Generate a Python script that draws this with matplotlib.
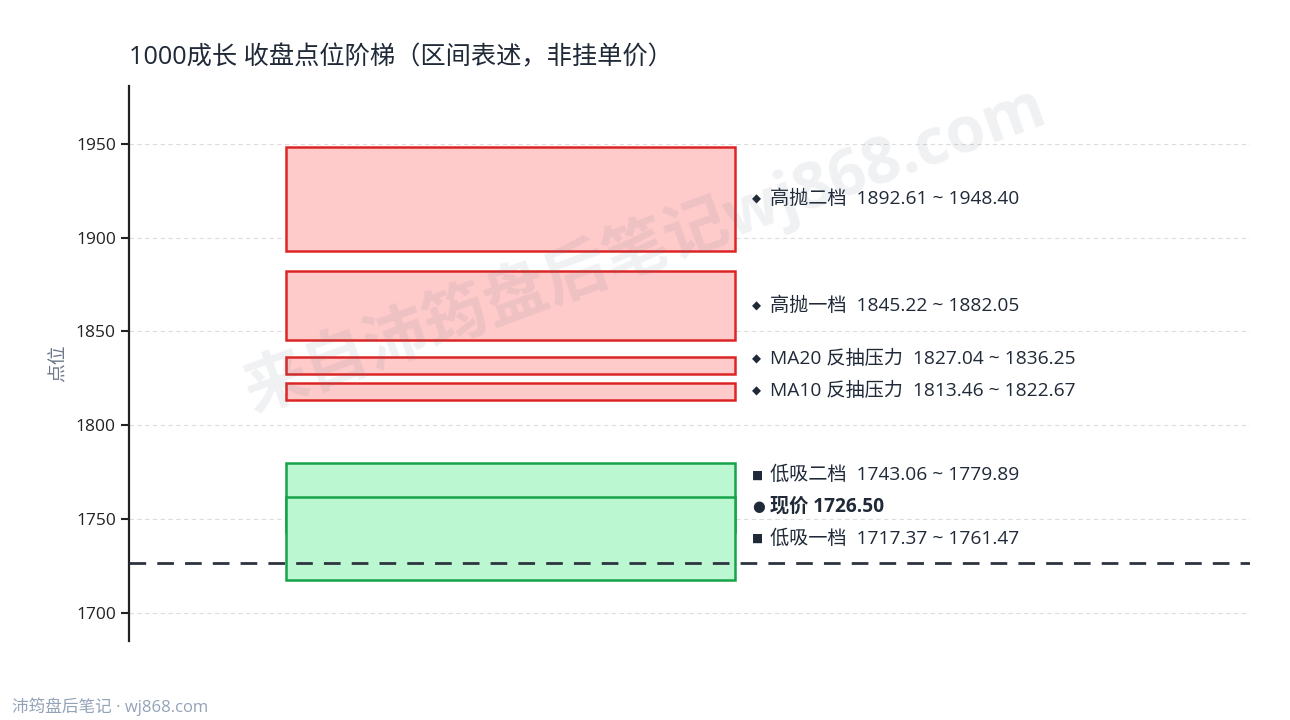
import numpy as np
import matplotlib
matplotlib.use("Agg")
import matplotlib.pyplot as plt
from matplotlib.patches import Rectangle

plt.rcParams['font.family'] = ['Open Sans', 'Noto Sans CJK SC', 'DejaVu Sans']
plt.rcParams['axes.unicode_minus'] = False

# 区间数据（从上到下的显示顺序）
zone_names = ["高抛二档", "高抛一档", "MA20 反抽压力", "MA10 反抽压力", "低吸二档", "低吸一档"]
zone_low = [1892.61, 1845.22, 1827.04, 1813.46, 1743.06, 1717.37]
zone_high = [1948.40, 1882.05, 1836.25, 1822.67, 1779.89, 1761.47]
zone_kind = ["sell", "sell", "sell", "sell", "buy", "buy"]
current_price = 1726.50

title = "1000成长 收盘点位阶梯（区间表述，非挂单价）"
yticks = [1700, 1750, 1800, 1850, 1900, 1950]

fill_col = {"sell": "#fecaca", "buy": "#bbf7d0"}
edge_col = {"sell": "#dc2626", "buy": "#16a34a"}
marker = {"sell": "◆", "buy": "■", "now": "●"}

fig = plt.figure(figsize=(12.9, 7.2), dpi=100)
ax = fig.add_axes([0.1, 0.11, 0.869, 0.771])
ax.set_xlim(0, 1)
ax.set_ylim(1685, 1981)

x0, x1 = 0.14, 0.541
for lo, hi, k in zip(zone_low, zone_high, zone_kind):
    ax.add_patch(Rectangle((x0, lo), x1 - x0, hi - lo, facecolor=fill_col[k],
                           edgecolor=edge_col[k], linewidth=1.8, zorder=2))

ax.axhline(current_price, color="#2d3440", linestyle=(0, (6, 4)), linewidth=2, zorder=3)

# 标签：显示顺序，低吸二档与低吸一档之间插入现价
labels = []
for name, lo, hi, k in zip(zone_names, zone_low, zone_high, zone_kind):
    labels.append((k, f"{name}  {lo:.2f} ~ {hi:.2f}", (lo + hi) / 2, "normal"))
labels.insert(5, ("now", f"现价 {current_price:.2f}", current_price, "bold"))

# 自下而上排开，避免重叠
gap = 17.0
ypos = [0.0] * len(labels)
prev = None
for i in range(len(labels) - 1, -1, -1):
    y = labels[i][2]
    if prev is not None:
        y = max(y, prev + gap)
    ypos[i] = y
    prev = y

for (k, txt, _, w), y in zip(labels, ypos):
    ms = 10.5 if k == "now" else 8.5
    ax.text(0.556, y, marker[k], va="center", ha="left", fontsize=ms,
            family="DejaVu Sans", color="#1f2937", zorder=4)
    ax.text(0.5715, y, txt, va="center", ha="left", fontsize=13.8, fontweight=w,
            color="#1f2937", zorder=4)

ax.set_yticks(yticks)
ax.tick_params(axis="y", labelsize=12.5, length=6, width=1.5, color="#222222", labelcolor="#222222")
ax.set_xticks([])
ax.grid(axis="y", color="#dddddd", linestyle=(0, (4, 3)), linewidth=0.8)
ax.set_axisbelow(True)
for s in ["top", "right", "bottom"]:
    ax.spines[s].set_visible(False)
ax.spines["left"].set_linewidth(1.6)
ax.spines["left"].set_color("#222222")
ax.set_ylabel("点位", fontsize=13.5, color="#6b7789", labelpad=6)

fig.text(0.1, 0.92, title, fontsize=18.2, color="#1f2937", ha="left", va="center")
fig.text(0.009, 0.018, "沛筠盘后笔记 · wj868.com", fontsize=12, color="#94a3b8", ha="left", va="center")

# 水印
fig.text(0.5, 0.655, "来自沛筠盘后笔记wj868.com", fontsize=46, fontweight="bold",
         color="#64748b", alpha=0.1, rotation=20, ha="center", va="center", zorder=10)

fig.savefig("out.png", dpi=100)
